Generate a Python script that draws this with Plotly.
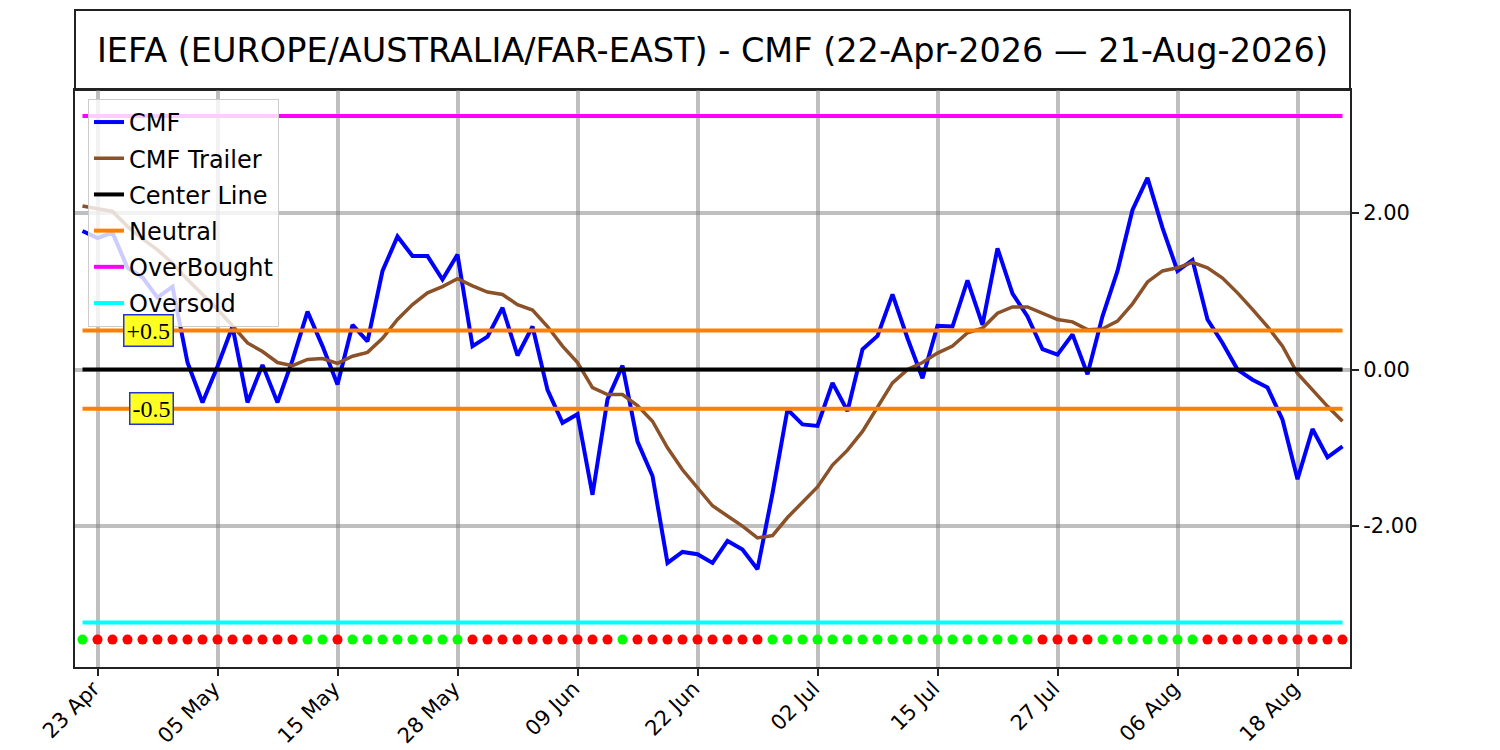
import pandas as pd
import plotly.graph_objects as go

# trading days 22-Apr-2026 .. 21-Aug-2026 (US market holidays skipped)
dates = [d.strftime("%Y-%m-%d") for d in pd.bdate_range(
    "2026-04-22", "2026-08-21", freq="C",
    holidays=["2026-05-25", "2026-06-19", "2026-07-03"])]

tick_labels = ["23 Apr", "05 May", "15 May", "28 May", "09 Jun", "22 Jun",
               "02 Jul", "15 Jul", "27 Jul", "06 Aug", "18 Aug"]
tick_dates = dates[1::8]

cmf = [1.77, 1.68, 1.75, 1.30, 1.18, 0.92, 1.06, 0.09, -0.42, 0.04,
       0.55, -0.42, 0.06, -0.42, 0.12, 0.74, 0.30, -0.19, 0.57, 0.36,
       1.26, 1.70, 1.45, 1.45, 1.15, 1.47, 0.30, 0.42, 0.79, 0.18,
       0.55, -0.26, -0.68, -0.57, -1.60, -0.38, 0.05, -0.92, -1.36, -2.47,
       -2.33, -2.36, -2.47, -2.19, -2.30, -2.55, -1.58, -0.51, -0.70, -0.72,
       -0.17, -0.53, 0.26, 0.43, 0.96, 0.40, -0.11, 0.56, 0.55, 1.14,
       0.57, 1.55, 0.97, 0.68, 0.26, 0.19, 0.45, -0.06, 0.68, 1.26,
       2.04, 2.45, 1.81, 1.26, 1.40, 0.64, 0.34, 0.00, -0.13, -0.23,
       -0.64, -1.40, -0.76, -1.12, -0.98]

cmf_trailer = [2.09, 2.05, 2.02, 1.83, 1.67, 1.53, 1.36, 1.15, 0.96, 0.77,
               0.56, 0.34, 0.23, 0.09, 0.05, 0.13, 0.14, 0.08, 0.17, 0.22,
               0.40, 0.64, 0.83, 0.98, 1.06, 1.16, 1.07, 0.99, 0.96, 0.83,
               0.76, 0.55, 0.30, 0.09, -0.23, -0.32, -0.32, -0.46, -0.66, -1.00,
               -1.28, -1.51, -1.74, -1.87, -2.00, -2.15, -2.12, -1.89, -1.69, -1.50,
               -1.22, -1.03, -0.79, -0.49, -0.17, 0.00, 0.09, 0.21, 0.30, 0.47,
               0.53, 0.72, 0.80, 0.80, 0.72, 0.64, 0.61, 0.51, 0.52, 0.62,
               0.84, 1.12, 1.26, 1.30, 1.37, 1.30, 1.17, 0.98, 0.77, 0.55,
               0.30, -0.05, -0.26, -0.47, -0.66]

# G = buy signal, R = sell signal (one per day)
signal = ("G" "RRRRRRRRRRRRRR" "GG" "R" "GGGGGGGG" "RRRRRRRRRR" "G"
          "RRRRRRRRR" "GGGGGGGGGGGGGGGGGG" "RRRR" "GGGGGGG" "RRRRRRRRRR")

center = 0.0
neutral = 0.5
overbought = 3.24
oversold = -3.23
signal_level = -3.45

fig = go.Figure()

fig.add_trace(go.Scatter(x=dates, y=cmf, mode="lines", name="CMF", legendgroup="cmf",
                         line=dict(color="#0000ff", width=4)))
fig.add_trace(go.Scatter(x=dates, y=cmf_trailer, mode="lines", name="CMF Trailer",
                         legendgroup="trl", line=dict(color="#8b5128", width=3.5)))
fig.add_trace(go.Scatter(x=dates, y=[center] * len(dates), mode="lines",
                         name="Center Line", legendgroup="ctr",
                         line=dict(color="black", width=4)))
fig.add_trace(go.Scatter(x=dates, y=[neutral] * len(dates), mode="lines",
                         name="Neutral", legendgroup="neu",
                         line=dict(color="#ff8000", width=4)))
fig.add_trace(go.Scatter(x=dates, y=[-neutral] * len(dates), mode="lines",
                         name="Neutral", legendgroup="neu", showlegend=False,
                         line=dict(color="#ff8000", width=4)))
fig.add_trace(go.Scatter(x=dates, y=[overbought] * len(dates), mode="lines",
                         name="OverBought", legendgroup="ob",
                         line=dict(color="#ff00ff", width=4)))
fig.add_trace(go.Scatter(x=dates, y=[oversold] * len(dates), mode="lines",
                         name="Oversold", legendgroup="os",
                         line=dict(color="#00ffff", width=4)))

dot_colors = ["#00ff00" if s == "G" else "#ff0000" for s in signal]
fig.add_trace(go.Scatter(x=dates, y=[signal_level] * len(dates), mode="markers",
                         showlegend=False, hoverinfo="skip",
                         marker=dict(color=dot_colors, size=10, line=dict(width=0))))

# +0.5 / -0.5 tags
for lvl, txt in [(neutral, "+0.5"), (-neutral, "-0.5")]:
    fig.add_annotation(x=6.1, y=lvl, text=txt, showarrow=False,
                       xanchor="right", yanchor="middle",
                       font=dict(family="Liberation Serif", size=24, color="black"),
                       bgcolor="#ffff22", bordercolor="#2233dd",
                       borderwidth=1.5, borderpad=2)

# title box above plot area
fig.add_shape(type="rect", xref="paper", yref="paper", x0=0, x1=1,
              y0=1, y1=1 + 80 / 577, line=dict(color="#222", width=2),
              fillcolor="white", layer="below")

fig.update_layout(
    width=1500, height=750,
    margin=dict(l=75, r=150, t=90, b=83, autoexpand=False),
    paper_bgcolor="white", plot_bgcolor="white",
    font=dict(family="DejaVu Sans", color="black"),
    title=dict(text="IEFA (EUROPE/AUSTRALIA/FAR-EAST) - CMF (22-Apr-2026 \u2014 21-Aug-2026)",
               x=0.5, xref="paper", xanchor="center",
               y=1 - 50 / 750, yref="container", yanchor="middle",
               font=dict(size=33.5, family="DejaVu Sans", color="black")),
    legend=dict(x=0.0102, y=0.9845, xanchor="left", yanchor="top",
                bgcolor="rgba(255,255,255,0.8)", bordercolor="#cccccc",
                borderwidth=1, tracegroupgap=2,
                font=dict(size=24, family="DejaVu Sans")),
    showlegend=True,
)

fig.update_xaxes(type="category", range=[-0.5, len(dates) - 0.5], automargin=False,
                 tickmode="array", tickvals=tick_dates, ticktext=tick_labels,
                 tickangle=-45, tickfont=dict(size=21),
                 ticklabelstandoff=-8, ticklabelshift=-4,
                 ticks="outside", ticklen=7, tickwidth=2, tickcolor="#222",
                 showgrid=True, gridcolor="rgba(128,128,128,0.5)", gridwidth=4,
                 showline=True, linecolor="#222", linewidth=2, mirror=True,
                 zeroline=False)

ytick_vals = [-2, 0, 2]
fig.update_yaxes(range=[-3.80, 3.572], side="right", automargin=False,
                 tickmode="array", tickvals=ytick_vals,
                 ticktext=[f"{v:.2f}" for v in ytick_vals],
                 tickfont=dict(size=21),
                 ticks="outside", ticklen=7, tickwidth=2, tickcolor="#222",
                 showgrid=True, gridcolor="rgba(128,128,128,0.5)", gridwidth=4,
                 showline=True, linecolor="#222", linewidth=2, mirror=True,
                 zeroline=False)

# drop the default page margin so the figure sits at the window's corner
fig.write_html("out.html", config={"displayModeBar": False},
               post_script="document.body.style.margin='0';")
